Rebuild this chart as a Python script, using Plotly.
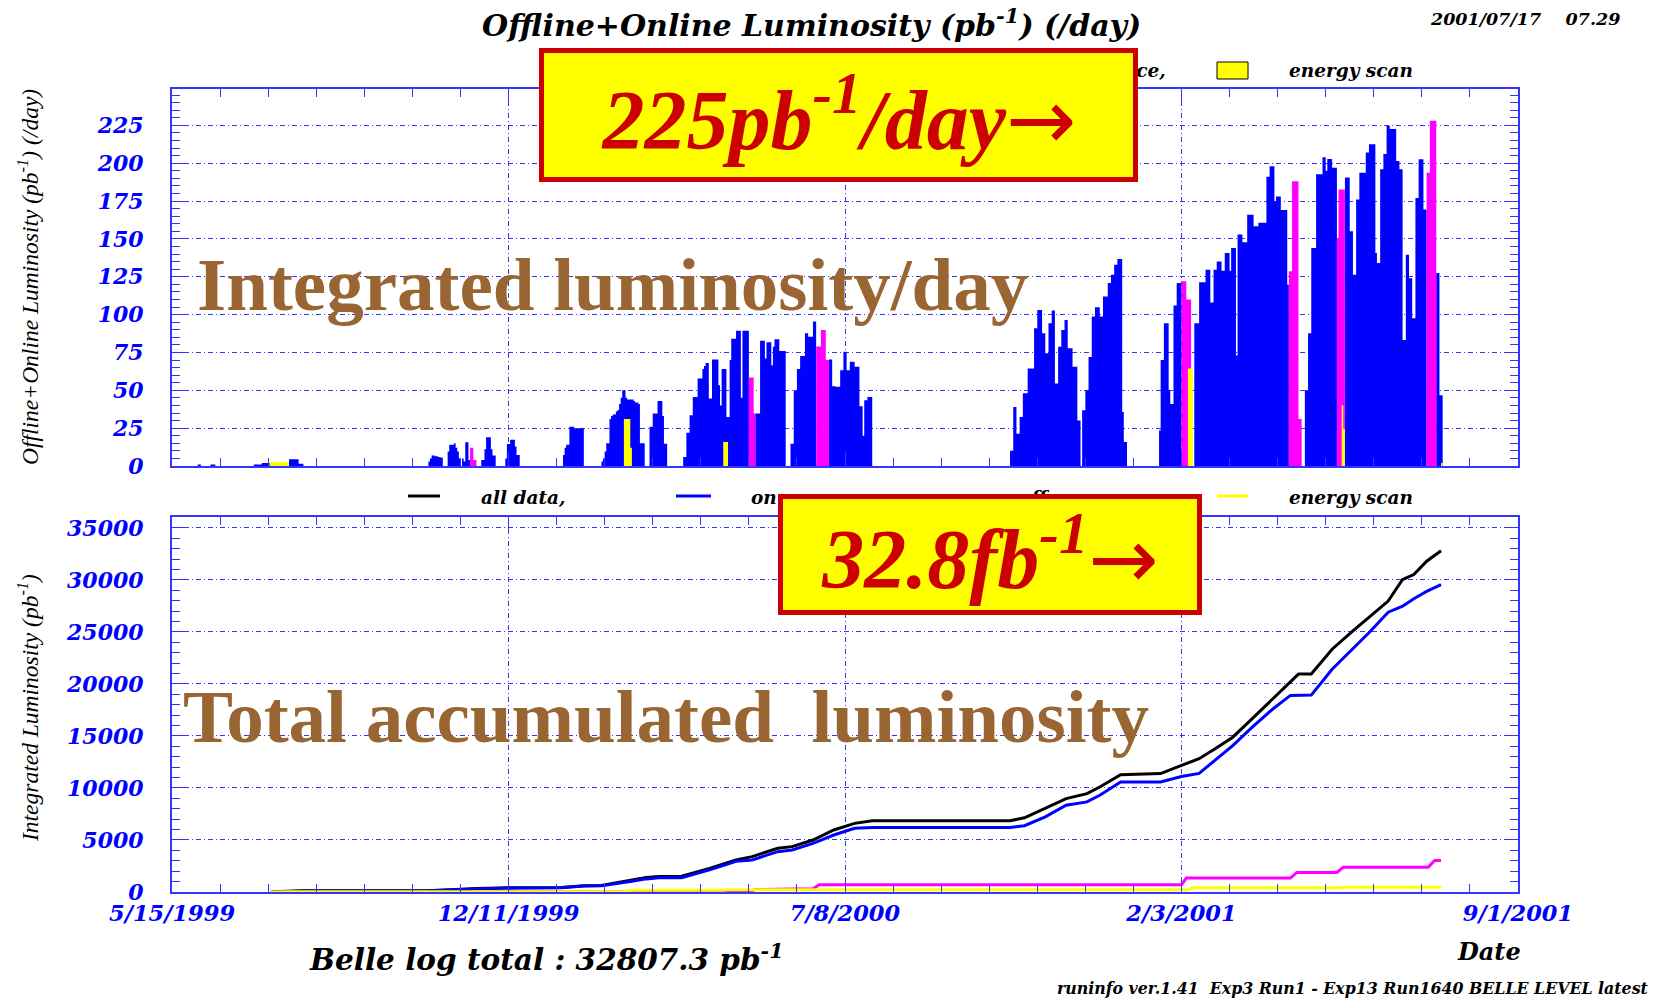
import pandas as pd
import plotly.graph_objects as go

# ---------------- data ----------------
DAY0 = "1999-05-15"          # x axis origin; all day numbers are days since this date
X_END = "2001-09-01"

# top panel: daily luminosity (pb^-1/day); each run = first day number + daily values
on_run_start = [16, 24, 51, 73, 160, 172, 193, 208, 244, 268, 298, 319, 364, 386, 410,
                523, 568, 616, 638, 707, 732, 789]
on_run_vals = [
    [1, 1],
    [1, 1, 1],
    [1, 1, 1, 1, 1, 2, 2, 2, 2, 2],
    [4.4, 4.4, 4.4, 4.4, 4.4, 4.4, 1.5, 1.5, 1.5],
    [3, 5, 7, 7, 6.5, 6.5, 6, 5.7, 5.5],
    [9.5, 14, 14, 14, 15, 12, 9.5, 5, 0, 5, 3, 15.7, 15.7, 4],
    [4, 4, 11, 19, 19, 19, 11, 7, 7],
    [5, 14.6, 14.6, 17.3, 17.3, 17.3, 12.8, 7.3, 7.3],
    [7.3, 12, 14, 14, 26, 26, 26, 25, 25, 25, 25, 25, 25],
    [3, 5, 9.5, 15, 15, 31, 33, 34, 34, 36, 37, 41, 45, 50, 50, 45, 44, 44, 44, 44, 43, 42,
     42, 41, 15, 15, 15],
    [26, 26, 34.6, 34.6, 34.6, 43, 43, 43, 33, 14.7, 14.7],
    [6, 6, 22, 22, 33.5, 33.5, 45.6, 45.6, 45.6, 57.8, 57.8, 57.8, 64, 66, 68, 68, 44.5, 44.5,
     70.4, 70.4, 70.4, 70.4, 53.4, 40, 64, 64, 64, 32.4, 32.4, 70, 84, 84, 84, 89.4, 89.4,
     89.4, 45, 89.4, 89.4, 89.4, 89.4],
    [34.6, 34.6, 34.6, 82.8, 82.8, 82.8, 71, 81.7, 81.7, 81.7, 66.6, 78.8, 83.7, 83.7, 83.7,
     76, 76, 76, 76],
    [14.7, 14.7, 50, 50, 64, 64, 72.6, 72.6, 72.6, 87.6, 87.6, 85.4, 85.4, 85.4, 95.4, 95.4],
    [70.4, 70.4, 52.7, 52.7, 52.3, 52.3, 52.3, 63.3, 63.3, 75.5, 75.5, 63.3, 63.3, 68.9, 68.9,
     68.9, 65.5, 65.5, 65.5, 39.4, 39.4, 20, 43.4, 43.4, 45.6, 45.6, 45.6],
    [10, 10, 39, 39, 21.3, 21.3, 32.4, 32.4, 48, 48, 48, 64.4, 64.4, 64.4, 64.4, 91, 91, 103,
     103, 103, 87.6, 87.6, 74.4, 74.4, 94.3, 94.3, 102.7, 102.7, 54.5, 54.5, 78.8, 78.8, 89.8,
     89.8, 96.5, 96.5, 77.7, 77.7, 77.7, 65.5, 65.5, 65.5, 30, 30],
    [36.8, 36.8, 50, 50, 72, 72, 98.7, 98.7, 104.9, 104.9, 104.9, 98.7, 98.7, 112, 112, 112,
     120.8, 120.8, 126.3, 126.3, 133, 133, 136.7, 136.7, 136.7, 35.7, 15.8, 15.8],
    [23.5, 70, 70, 94.3, 94.3, 94.3, 50, 41, 41, 106, 106, 120.8, 120.8, 120.8],
    [94.3, 94.3, 94.3, 121.3, 121.3, 121.3, 121.3, 129.6, 129.6, 129.6, 108, 108, 129.6, 129.6,
     135, 135, 135, 129, 129, 140.7, 140.7, 140.7, 129, 144, 144, 144, 73, 152.9, 152.9, 152.9,
     147.8, 147.8, 147.8, 166, 166, 166, 166, 158.4, 158.4, 158.4, 160.6, 160.6, 160.6, 160.6,
     160.6, 191, 191, 198, 198, 198, 175, 178, 178, 178, 169, 169, 169, 169, 119.7],
    [50, 50, 87.6, 87.6, 144, 144, 144, 192.7, 192.7, 192.7, 192.7, 204, 204, 195, 202.7,
     202.7, 202.7, 197, 197, 197],
    [190.5, 190.5, 190.5, 155, 155, 126.3, 126.3, 176, 176, 193.7, 193.7, 193.7, 193.7, 207,
     207, 212.5, 212.5, 212.5, 212.5, 140.7, 134, 134, 196, 196, 206, 206, 224.7, 224.7, 222.5,
     222.5, 222.5, 222.5, 201.5, 201.5, 196, 196, 83.3, 83.3, 139.6, 139.6, 124, 124, 97.6,
     97.6, 177, 177, 202.6, 202.6, 202.6, 169.4, 169.4],
    [127.5, 127.5, 46.7, 46.7],
]
off_run_start = [186, 360, 402, 630, 697, 727, 783]
off_run_vals = [
    [12, 12, 4, 4],
    [58.5, 58.5, 58.5, 34.6],
    [79, 79, 79, 89.8, 89.8, 89.8, 70, 70],
    [122, 122, 122, 110, 110, 110],
    [128.6, 128.6, 188, 188, 188, 188, 31, 31],
    [150.7, 182.7, 182.7, 182.7, 182.7],
    [193.7, 193.7, 228, 228, 228, 228],
]
scan_run_start = [61, 282, 344, 634, 730, 792]
scan_run_vals = [
    [2.5, 3, 2.5, 3, 2.5, 2.5, 3, 2.5, 3, 2.5, 2.5, 2.5],
    [31, 31, 31, 31, 12],
    [15.8, 15.8, 15.8],
    [64.4, 64.4, 64.4],
    [40, 24.6],
    [2],
]

# bottom panel: integrated luminosity (pb^-1)
all_days = [62, 82, 160, 190, 216, 243, 257, 268, 288, 296, 304, 318, 336, 352, 362, 378,
            387, 400, 413, 426, 437, 523, 532, 545, 558, 571, 579, 592, 617, 630, 641, 651, 662,
            674, 687, 698, 703, 711, 724, 737, 747, 759, 768, 775, 783, 792]
all_cum = [20, 120, 130, 330, 420, 430, 600, 620, 1180, 1400, 1500, 1520, 2290, 3090, 3400,
           4200, 4360, 5000, 5960, 6600, 6850, 6850, 7130, 8020, 8980, 9460, 10090, 11280,
           11380, 12170, 12810, 13770, 14880, 16640, 18550, 20150, 20950, 20950, 23340, 25100,
           26370, 27970, 30040, 30520, 31800, 32807]
on_days = all_days
on_cum = [0, 100, 110, 300, 390, 400, 570, 590, 1050, 1260, 1360, 1380, 2150, 2950, 3080,
          3880, 4040, 4680, 5480, 6120, 6210, 6210, 6370, 7230, 8340, 8660, 9300, 10570, 10570,
          11100, 11400, 12640, 14080, 15830, 17590, 18900, 18930, 18930, 21410, 23400, 24920,
          26900, 27470, 28200, 28900, 29540]
off_days = [186, 190, 360, 364, 400, 404, 630, 633, 698, 702, 727, 731, 784, 788, 792]
off_cum = [0, 32, 32, 230, 320, 700, 700, 1340, 1340, 1880, 1880, 2390, 2390, 3030, 3030]
scan_days = [61, 73, 282, 287, 344, 347, 634, 637, 730, 732, 792]
scan_cum = [0, 30, 30, 160, 160, 210, 210, 400, 400, 460, 460]

# ---------------- helpers ----------------
W, H = 1670, 1005
MS_DAY = 86400000
T0 = pd.Timestamp(DAY0)


def to_date(d):
    return T0 + pd.Timedelta(days=d)


def histo_steps(starts, runs):
    """Outline of a daily histogram (one bin per day) as an 'hv' step path."""
    xs, ys = [T0], [0]
    for s, vals in zip(starts, runs):
        for i, v in enumerate(vals):
            xs.append(to_date(s + i))
            ys.append(v)
        xs.append(to_date(s + len(vals)))
        ys.append(0)
    return xs, ys


def px(x):
    return x / W


def py(y):
    return 1 - y / H


BLUE = "#0000ff"
MAG = "#ff00ff"
YEL = "#ffff00"
AXC = "#3535ff"
SERIF = "Liberation Serif"
WIDE = "DejaVu Serif"
TICKF = dict(family=WIDE, size=22, color=BLUE, weight="bold", style="italic")

fig = go.Figure()

for (starts, runs, col) in [(on_run_start, on_run_vals, BLUE),
                            (off_run_start, off_run_vals, MAG),
                            (scan_run_start, scan_run_vals, YEL)]:
    xs, ys = histo_steps(starts, runs)
    fig.add_trace(go.Scatter(x=xs, y=ys, mode="lines", line=dict(color=col, width=0, shape="hv"),
                             fill="tozeroy", fillcolor=col, xaxis="x", yaxis="y"))

for (days, cum, col) in [(all_days, all_cum, "#000000"), (on_days, on_cum, BLUE),
                         (off_days, off_cum, MAG), (scan_days, scan_cum, YEL)]:
    fig.add_trace(go.Scatter(x=[to_date(d) for d in days], y=cum, mode="lines",
                             line=dict(color=col, width=3), xaxis="x2", yaxis="y2"))

XR = [T0 - pd.Timedelta(minutes=30), pd.Timestamp(X_END) + pd.Timedelta(minutes=30)]
GRIDDASH = "5px,3px,1px,3px"
xcommon = dict(type="date", range=XR, tick0=DAY0, dtick=210 * MS_DAY, ticks="inside",
               ticklen=14, tickwidth=1, tickcolor=AXC, showline=True, linecolor=AXC,
               linewidth=2, mirror="allticks", showgrid=True, gridcolor=AXC,
               griddash=GRIDDASH, gridwidth=1, zeroline=False, automargin=False,
               minor=dict(tick0=DAY0, dtick=30 * MS_DAY, ticks="inside", ticklen=8,
                          tickwidth=1, tickcolor=AXC, showgrid=False),
               domain=[px(172), px(1518)])
ycommon = dict(ticks="inside", ticklen=14, tickwidth=1, tickcolor=AXC, showline=True,
               linecolor=AXC, linewidth=2, mirror="allticks", showgrid=True, gridcolor=AXC,
               griddash=GRIDDASH, gridwidth=1, zeroline=False, tickfont=TICKF,
               ticklabelstandoff=22, tickformat="d", automargin=False)

fig.update_layout(
    width=W, height=H, margin=dict(l=0, r=0, t=0, b=0, autoexpand=False),
    paper_bgcolor="white", plot_bgcolor="white", showlegend=False,
    xaxis=dict(**xcommon, anchor="y", showticklabels=False),
    yaxis=dict(**ycommon, anchor="x", range=[0, 249], tick0=0, dtick=25,
               minor=dict(dtick=5, ticks="inside", ticklen=8, tickwidth=1, tickcolor=AXC,
                          showgrid=False),
               domain=[py(466), py(89)]),
    xaxis2=dict(**xcommon, anchor="y2", showticklabels=True, tickformat="%-m/%-d/%Y",
                tickfont=dict(family=WIDE, size=22.5, color=BLUE, weight="bold",
                              style="italic")),
    yaxis2=dict(**ycommon, anchor="x2", range=[0, 36050], tick0=0, dtick=5000,
                minor=dict(dtick=1000, ticks="inside", ticklen=8, tickwidth=1, tickcolor=AXC,
                           showgrid=False),
                domain=[py(892), py(517)]),
)

shapes = []
# top legend boxes
for (x0, col, lc) in [(676, BLUE, BLUE), (946, MAG, MAG), (1217, YEL, "black")]:
    shapes.append(dict(type="rect", xref="paper", yref="paper", x0=px(x0), x1=px(x0 + 31),
                       y0=py(79), y1=py(62), fillcolor=col, line=dict(color=lc, width=1)))
# bottom legend lines
for (x0, x1, col) in [(408, 440, "black"), (676, 711, BLUE), (946, 977, MAG), (1217, 1248, YEL)]:
    shapes.append(dict(type="line", xref="paper", yref="paper", x0=px(x0), x1=px(x1),
                       y0=py(496), y1=py(496), line=dict(color=col, width=3)))
fig.update_layout(shapes=shapes)


def ann(text, x, y, size, family=SERIF, color="black", xanchor="center", yanchor="middle",
        weight="bold", style="italic", **kw):
    d = dict(text=text, x=px(x), y=py(y), xref="paper", yref="paper", showarrow=False,
             xanchor=xanchor, yanchor=yanchor,
             font=dict(family=family, size=size, color=color, weight=weight, style=style))
    d.update(kw)
    return d


ARROW = "<span style='font-family:DejaVu Sans;font-weight:normal;font-style:normal'>\u2192</span>"
anns = [
    ann("Offline+Online Luminosity (pb<sup>-1</sup>) (/day)", 811, 23, 30, family=WIDE),
    ann("2001/07/17&nbsp;&nbsp;&nbsp;&nbsp;07.29", 1525, 19, 17.5, family=WIDE),
    # top legend texts
    ann("on resonance,", 749, 70, 18.5, family=WIDE, xanchor="left"),
    ann("off resonance,", 1168, 70, 18.5, family=WIDE, xanchor="right"),
    ann("energy scan", 1287, 70, 18.5, family=WIDE, xanchor="left"),
    # bottom legend texts
    ann("all data,", 479, 497, 18.5, family=WIDE, xanchor="left"),
    ann("on resonance,", 749, 497, 18.5, family=WIDE, xanchor="left"),
    ann("off resonance,", 1168, 497, 18.5, family=WIDE, xanchor="right"),
    ann("energy scan", 1287, 497, 18.5, family=WIDE, xanchor="left"),
    # axis titles
    ann("Offline+Online Luminosity (pb<sup>-1</sup>) (/day)", 28, 277, 23.5, weight="normal",
        textangle=-90),
    ann("Integrated Luminosity (pb<sup>-1</sup>)", 28, 708, 23.5, weight="normal",
        textangle=-90),
    # overlay labels
    ann("Integrated luminosity/day", 195, 285, 75, color="#996633", xanchor="left",
        style="normal"),
    ann("Total accumulated\u00a0 luminosity", 181, 716, 75, color="#996633", xanchor="left",
        style="normal"),
    # highlighted boxes
    ann("225pb<sup>-1</sup>/day" + ARROW, 838, 114.5, 84, color="#cc0000", bgcolor=YEL,
        bordercolor="#cc0000", borderwidth=5, borderpad=0, width=589, height=124),
    ann("32.8fb<sup>-1</sup>" + ARROW, 990.5, 554, 84, color="#cc0000", bgcolor=YEL,
        bordercolor="#cc0000", borderwidth=5, borderpad=0, width=414, height=111),
    # footer
    ann("Belle log total : 32807.3 pb<sup>-1</sup>", 307, 958, 29.5, family=WIDE,
        xanchor="left"),
    ann("Date", 1489, 951, 24, family=WIDE),
    ann("runinfo ver.1.41&nbsp; Exp3 Run1 - Exp13 Run1640 BELLE LEVEL latest", 1651, 988, 15.8,
        family=WIDE, xanchor="right"),
]
fig.update_layout(annotations=anns)

fig.write_html("out.html", config={"displayModeBar": False},
               post_script="document.body.style.margin='0';document.body.style.padding='0';")
